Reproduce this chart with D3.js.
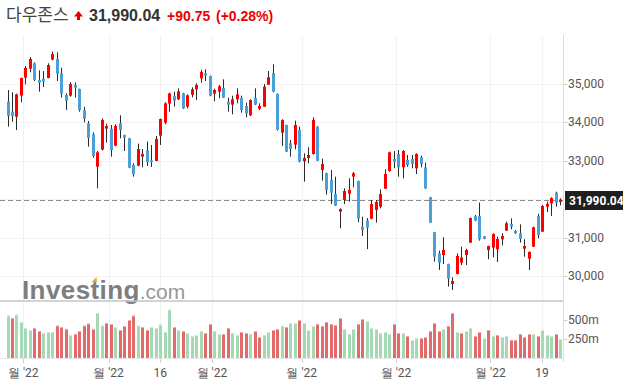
<!DOCTYPE html>
<html>
<head>
<meta charset="utf-8">
<script src="https://cdn.jsdelivr.net/npm/d3@7"></script>
<style>
	body { margin: 0; background: #fff; }
	svg { display: block; }
</style>
</head>
<body>
<script>
(function () {
	"use strict";

	// daily candles, 26 Jan - 25 Jul 2022
	let open = [34540,34280,34149,34696,35165,35399,35538,35104,35139,35156,35634,35651,35278,34714,34696,34974,34870,34314,33976,33689,
		32847,33290,33837,33837,33394,33976,33672,33585,32891,32873,33108,33273,33012,32995,33655,33993,34488,34688,34601,34757,
		34410,34722,34861,35148,35278,35208,34748,34800,34896,34540,34462,34601,34636,34427,34184,34636,34358,34410,34983,35286,
		34740,33733,33932,33455,33420,33802,32986,33073,33177,33889,32761,32674,32500,32136,31676,31979,32144,32587,32474,31285,
		31441,31493,31719,31806,32274,32735,33047,33177,32830,33021,33047,32804,33090,32830,32049,31146,30590,30547,30313,29792,
		30052,30347,30547,30868,31554,31563,31033,30677,30738,30695,30955,31181,31354,31172,31111,30712,30452,30764,31563,31155,
		31806,31893,32170,31927];
	let high = [34844,34783,34748,35165,35469,35703,35560,35356,35338,35538,35842,35825,35425,34757,35052,35043,34880,34410,34037,33741,
		33255,34106,33967,33932,33950,34184,33680,33600,32934,33446,33307,33498,33412,33646,34100,34522,34770,34800,34887,34770,
		34731,34913,35017,35365,35382,35220,34878,34974,35122,34644,34696,34887,34696,34514,34601,34887,34497,35000,35339,35512,
		34757,34080,33940,33542,34045,33889,33194,33351,34132,33900,33056,32691,32761,32587,31762,32283,32544,32709,32483,31545,
		31511,31979,31979,32257,32778,33238,33255,33281,33281,33151,33151,33194,33134,32951,32060,31150,30660,31007,30320,29966,
		30590,30764,30712,31520,31589,31910,31042,30790,31111,31024,31111,31415,31502,31198,31345,30955,30640,31285,31615,31849,
		31936,32049,32196,32023];
	let low = [33889,34019,33802,34523,34991,35304,35078,34800,34922,35148,35620,35078,34644,34323,34670,34644,34280,34002,33368,33082,
		32283,33273,33472,33108,33380,33585,33255,32810,32587,32860,32830,32865,32839,32990,33412,33950,34280,34410,34583,34350,
		34366,34653,34583,35035,35078,34680,34549,34627,34636,34280,34210,34497,34254,34132,34167,34453,34323,34400,34974,34783,
		33785,33386,33230,33108,33299,32960,32457,32934,33160,32990,32483,32118,31875,31823,31242,31875,31936,32309,31398,31042,
		30700,31476,31389,31762,32266,32717,32804,32587,32544,32847,32804,32656,32830,32270,31380,30373,30157,30313,29723,29636,
		30045,30287,30287,30860,31430,30920,30955,30434,30486,30365,30799,31175,31215,31094,30868,30504,30156,30755,30981,31146,
		31667,31563,31806,31840];
	let close = [34170,34160,34731,35156,35417,35651,35113,35035,35061,35495,35781,35269,34748,34566,35000,34905,34323,34097,33594,33125,
		33220,34063,33906,33281,33906,33802,33603,32821,32648,33307,33177,32960,32965,33568,34089,34496,34757,34566,34809,34366,
		34705,34861,34974,35312,35217,34696,34844,34939,34644,34462,34601,34731,34323,34236,34583,34462,34427,34931,35174,34800,
		33811,34063,33238,33307,33932,32978,33073,33151,34063,33004,32917,32240,32170,31832,31745,32214,32240,32674,31493,31198,
		31259,31875,31927,32135,32656,33220,32977,32830,33255,32891,32917,33177,32917,32283,31389,30504,30347,30677,29931,29870,
		30521,30478,30677,31511,31441,30955,30972,30781,31094,30963,31042,31372,31285,31111,30964,30781,30625,31267,31068,31823,
		31875,32031,31910,31990.04];
	// volume in millions
	let volume = [557,526,570,474,395,368,395,355,329,342,342,425,408,382,303,316,355,425,452,382,
		592,425,460,447,408,368,421,500,557,425,408,368,408,395,439,342,636,408,368,355,
		329,289,303,355,329,447,355,316,316,395,329,303,342,329,316,355,276,303,342,368,
		382,423,408,460,460,500,460,368,421,447,421,474,447,434,526,382,316,382,447,513,
		487,395,382,329,342,316,447,329,329,289,237,263,263,276,355,460,355,382,421,592,
		342,329,355,395,289,342,263,368,289,303,276,289,237,237,316,276,316,316,289,368,
		303,289,316,250];

	let priceTicks = [30000, 31000, 32000, 33000, 34000, 35000];
	let volTicks = [250, 500];
	// x ticks: candle index (.5 = between two days) and label
	let xTickIdx = [3.5, 22.5, 34, 45.5, 65.5, 86.5, 107.5, 119];
	let xTickLabels = ["월 '22", "월 '22", "16", "월 '22", "월 '22", "월 '22", "월 '22", "19"];

	let lastPrice = 31990.04;
	let change = "+90.75";
	let changePct = "(+0.28%)";

	let w = 629;
	let h = 387;
	let axisX = 563.5;
	let upCol = '#ff0000';
	let downCol = '#4aa0d8';

	let svg = d3.select('body').append('svg').attr('width', w).attr('height', h);

	let n = close.length;
	let x = d3.scaleLinear().domain([0, n - 1]).range([7.5, 560]);
	let y = d3.scaleLinear().domain([30000, 35000]).range([276, 84]);
	let yv = d3.scaleLinear().domain([0, 750]).range([358, 301]);
	let fmt = d3.format(',');

	// grid
	svg.append('g').selectAll('line')
		.data(priceTicks)
		.enter()
		.append('line')
		.attr('x1', 0).attr('x2', axisX)
		.attr('y1', (d) => Math.round(y(d)) + 0.5)
		.attr('y2', (d) => Math.round(y(d)) + 0.5)
		.attr('stroke', '#f2f2f2');

	svg.append('g').selectAll('line')
		.data(xTickIdx)
		.enter()
		.append('line')
		.attr('x1', (d) => Math.round(x(d)) + 0.5)
		.attr('x2', (d) => Math.round(x(d)) + 0.5)
		.attr('y1', 35).attr('y2', 362)
		.attr('stroke', '#f2f2f2');

	// watermark
	let wm = svg.append('text')
		.attr('x', 22).attr('y', 299)
		.style('font-family', 'Liberation Sans, Arial, sans-serif');
	let wmMain = wm.append('tspan')
		.attr('font-size', 26).attr('font-weight', 'bold')
		.attr('letter-spacing', 0.4)
		.attr('fill', '#7e7e7e')
		.text('Investing');
	wm.append('tspan')
		.attr('font-size', 21)
		.attr('fill', '#979797')
		.text('.com');
	// orange flick on the "t"
	let tx = 22 + wmMain.node().getSubStringLength(0, 5);
	svg.append('path')
		.attr('d', `M${tx + 1},282 L${tx + 6},277 L${tx + 6.5},282 Z`)
		.attr('fill', '#f5a623');

	// separator between price and volume panes
	svg.append('line')
		.attr('x1', 0).attr('x2', axisX)
		.attr('y1', 301).attr('y2', 301)
		.attr('stroke', '#c4c4c4').attr('stroke-width', 1.5);

	// volume
	let vol = svg.append('g');
	vol.selectAll('rect.v')
		.data(volume)
		.enter()
		.append('rect')
		.attr('class', 'v')
		.attr('x', (d, i) => Math.round(x(i)) - 1)
		.attr('width', 3)
		.attr('y', (d) => yv(d))
		.attr('height', (d) => yv(0) - yv(d))
		.attr('fill', (d, i) => (i == 0 || close[i] >= close[i - 1]) ? '#a5d9b5' : '#e26a6a');
	vol.selectAll('rect.cap')
		.data(volume)
		.enter()
		.append('rect')
		.attr('class', 'cap')
		.attr('x', (d, i) => Math.round(x(i)) - 1)
		.attr('width', 3)
		.attr('y', (d) => yv(d))
		.attr('height', 1)
		.attr('fill', (d, i) => (i == 0 || close[i] >= close[i - 1]) ? '#cbeccf' : '#f2a9a9');

	// last price dashed line
	svg.append('line')
		.attr('x1', 0).attr('x2', axisX)
		.attr('y1', Math.round(y(lastPrice)) + 0.5)
		.attr('y2', Math.round(y(lastPrice)) + 0.5)
		.attr('stroke', '#8c8c8c')
		.attr('stroke-dasharray', '5,3');

	// candles
	let idx = d3.range(n);
	let candles = svg.append('g');
	candles.selectAll('line')
		.data(idx)
		.enter()
		.append('line')
		.attr('x1', (i) => Math.round(x(i)) + 0.5)
		.attr('x2', (i) => Math.round(x(i)) + 0.5)
		.attr('y1', (i) => y(high[i]))
		.attr('y2', (i) => y(low[i]))
		.attr('stroke', '#2b2b2b');
	candles.selectAll('rect')
		.data(idx)
		.enter()
		.append('rect')
		.attr('x', (i) => Math.round(x(i)) - 1)
		.attr('width', 3)
		.attr('y', (i) => y(Math.max(open[i], close[i])))
		.attr('height', (i) => Math.max(1.5, Math.abs(y(open[i]) - y(close[i]))))
		.attr('fill', (i) => close[i] >= open[i] ? upCol : downCol);

	// right axis
	svg.append('line')
		.attr('x1', axisX).attr('x2', axisX)
		.attr('y1', 35).attr('y2', 362)
		.attr('stroke', '#dcdcdc');

	let axisFont = 'Roboto, Arial, sans-serif';

	let py = svg.append('g').selectAll('g')
		.data(priceTicks.filter((d) => Math.abs(y(d) - y(lastPrice)) > 12))
		.enter()
		.append('g');
	py.append('line')
		.attr('x1', axisX).attr('x2', axisX + 4)
		.attr('y1', (d) => Math.round(y(d)) + 0.5)
		.attr('y2', (d) => Math.round(y(d)) + 0.5)
		.attr('stroke', '#cfcfcf');
	py.append('text')
		.attr('x', 568)
		.attr('y', (d) => y(d) + 4)
		.style('font-family', axisFont)
		.attr('font-size', 12)
		.attr('fill', '#555')
		.text((d) => fmt(d));

	let vy = svg.append('g').selectAll('g')
		.data(volTicks)
		.enter()
		.append('g');
	vy.append('line')
		.attr('x1', axisX).attr('x2', axisX + 4)
		.attr('y1', (d) => Math.round(yv(d)) + 0.5)
		.attr('y2', (d) => Math.round(yv(d)) + 0.5)
		.attr('stroke', '#cfcfcf');
	vy.append('text')
		.attr('x', 568)
		.attr('y', (d) => yv(d) + 4)
		.style('font-family', axisFont)
		.attr('font-size', 12)
		.attr('fill', '#555')
		.text((d) => d + 'm');

	// current price tag
	svg.append('rect')
		.attr('x', 565).attr('y', Math.round(y(lastPrice)) - 9)
		.attr('width', 58).attr('height', 19)
		.attr('fill', '#1f1f1f');
	svg.append('text')
		.attr('x', 569).attr('y', y(lastPrice) + 5)
		.style('font-family', axisFont)
		.attr('font-size', 12).attr('font-weight', 'bold')
		.attr('fill', '#fff')
		.text(d3.format(',.2f')(lastPrice));

	// bottom axis
	svg.append('line')
		.attr('x1', 0).attr('x2', axisX)
		.attr('y1', 358.5).attr('y2', 358.5)
		.attr('stroke', '#e6e6e6');
	let bx = svg.append('g').selectAll('g')
		.data(xTickIdx)
		.enter()
		.append('g');
	bx.append('line')
		.attr('x1', (d) => Math.round(x(d)) + 0.5)
		.attr('x2', (d) => Math.round(x(d)) + 0.5)
		.attr('y1', 359).attr('y2', 363)
		.attr('stroke', '#cfcfcf');
	bx.append('text')
		.attr('x', (d) => x(d))
		.attr('y', 377)
		.attr('text-anchor', 'middle')
		.style('font-family', axisFont)
		.attr('font-size', 12)
		.attr('fill', '#555')
		.text((d, i) => xTickLabels[i]);

	// title
	svg.append('text')
		.attr('x', 6).attr('y', 21)
		.style('font-family', '"Noto Sans CJK KR", sans-serif')
		.attr('font-size', 17)
		.attr('fill', '#444')
		.text('다우존스');
	svg.append('path')
		.attr('d', 'M74,16.5 L78.5,11 L83,16.5 L80,16.5 L80,20 L77,20 L77,16.5 Z')
		.attr('fill', '#e60000');
	let t = svg.append('text')
		.attr('x', 89).attr('y', 21)
		.style('font-family', 'Liberation Sans, Arial, sans-serif')
		.attr('font-weight', 'bold');
	t.append('tspan')
		.attr('font-size', 16)
		.attr('fill', '#333')
		.text(d3.format(',.2f')(lastPrice));
	t.append('tspan')
		.attr('x', 167)
		.attr('font-size', 14)
		.attr('fill', '#ee0000')
		.text(change);
	t.append('tspan')
		.attr('x', 216)
		.attr('font-size', 14)
		.attr('fill', '#ee0000')
		.text(changePct);
})();
</script>
</body>
</html>
